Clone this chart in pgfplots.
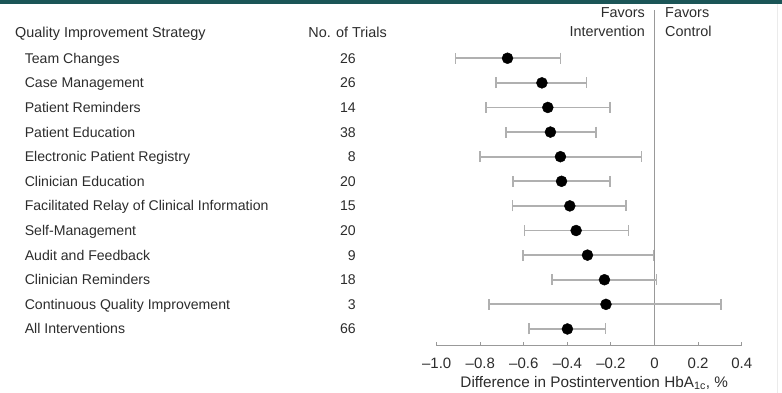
\documentclass[border=0pt]{standalone}
\usepackage{fontspec}
\setmainfont{Liberation Sans}
\usepackage{pgfplots}
\usepackage{pgfplotstable}
\pgfplotsset{compat=1.18}
\definecolor{txt}{HTML}{2C2C2C}
\definecolor{errgray}{HTML}{B0B0B0}
\definecolor{axgray}{HTML}{999999}
\definecolor{teal}{HTML}{1B5557}
\newcommand\ff{\fontsize{14.1bp}{16bp}\selectfont}
\newcommand\fh{\fontsize{14.4bp}{16bp}\selectfont}
\newcommand\ft{\fontsize{15bp}{16bp}\selectfont}
\newcommand\fl{\fontsize{15.3bp}{17bp}\selectfont}
\newcommand\row[2]{\makebox[331bp][l]{#1}\llap{#2}}
\pgfplotstableread{
y est lo hi
1 -0.675 -0.913 -0.432
2 -0.517 -0.727 -0.312
3 -0.490 -0.775 -0.205
4 -0.478 -0.683 -0.269
5 -0.432 -0.801 -0.060
6 -0.427 -0.649 -0.205
7 -0.389 -0.652 -0.131
8 -0.360 -0.597 -0.119
9 -0.308 -0.605 -0.005
10 -0.230 -0.472 0.009
11 -0.223 -0.760 0.305
12 -0.400 -0.576 -0.225
}\data
\begin{document}
\begin{tikzpicture}
\useasboundingbox (0,0) rectangle (782bp,393bp);
\fill[teal] (0,389bp) rectangle (782bp,393bp);
\draw[black!8, line width=1bp] (777bp,0) -- (777bp,389bp);
\node[anchor=base west, text=txt, font=\fh, inner sep=0] at (15bp,355.7bp) {Quality Improvement Strategy};
\node[anchor=base east, text=txt, font=\fh, inner sep=0] at (387bp,355.7bp) {No. of Trials};
\node[anchor=base east, text=txt, font=\fh, inner sep=0] at (645bp,375bp) {Favors};
\node[anchor=base east, text=txt, font=\fh, inner sep=0] at (645bp,356bp) {Intervention};
\node[anchor=base west, text=txt, font=\fh, inner sep=0] at (665bp,375bp) {Favors};
\node[anchor=base west, text=txt, font=\fh, inner sep=0] at (665bp,356bp) {Control};
\begin{axis}[
  at={(436.7bp,47.3bp)}, anchor=south west,
  scale only axis, width=305bp, height=335.7bp,
  xmin=-1, xmax=0.4, ymin=-0.96, ymax=12.68,
  y dir=reverse,
  clip=false,
  axis x line*=bottom, axis y line*=left,
  y axis line style={draw=none},
  x axis line style={axgray, line width=1bp},
  xtick={-1,-0.8,-0.6,-0.4,-0.2,0,0.2,0.4},
  xticklabels={–1.0,–0.8,–0.6,–0.4,–0.2,0,0.2,0.4},
  xtick align=inside,
  major tick length=4bp,
  xtick style={axgray, line width=1bp},
  xticklabel style={anchor=base, yshift=-22.3bp, font=\ft, text=txt},
  ytick={1,...,12},
  ytick style={draw=none},
  yticklabels={
    \row{Team Changes}{26},
    \row{Case Management}{26},
    \row{Patient Reminders}{14},
    \row{Patient Education}{38},
    \row{Electronic Patient Registry}{8},
    \row{Clinician Education}{20},
    \row{Facilitated Relay of Clinical Information}{15},
    \row{Self-Management}{20},
    \row{Audit and Feedback}{9},
    \row{Clinician Reminders}{18},
    \row{Continuous Quality Improvement}{3},
    \row{All Interventions}{66}},
  yticklabel style={anchor=base east, inner sep=0pt, xshift=-80.7bp, yshift=-5bp, font=\ff, text=txt},
]
\addplot[axgray, line width=1.1bp] coordinates {(0,-0.96) (0,12.68)};
\addplot[only marks, mark=*, mark size=5.5bp, mark options={fill=black, draw=black},
  error bars/.cd, x dir=both, x explicit, error mark=|,
  error bar style={errgray, line width=1.8bp},
  error mark options={errgray, line width=1.6bp, mark size=5.5bp}]
  table[x=est, y=y, x error plus expr=\thisrow{hi}-\thisrow{est}, x error minus expr=\thisrow{est}-\thisrow{lo}] {\data};
\node[anchor=base, text=txt, font=\fl, inner sep=0] at (axis cs:-0.277,12.68) [yshift=-41.8bp] {Difference in Postintervention HbA\textsubscript{1c}, \%};
\end{axis}
\end{tikzpicture}
\end{document}
